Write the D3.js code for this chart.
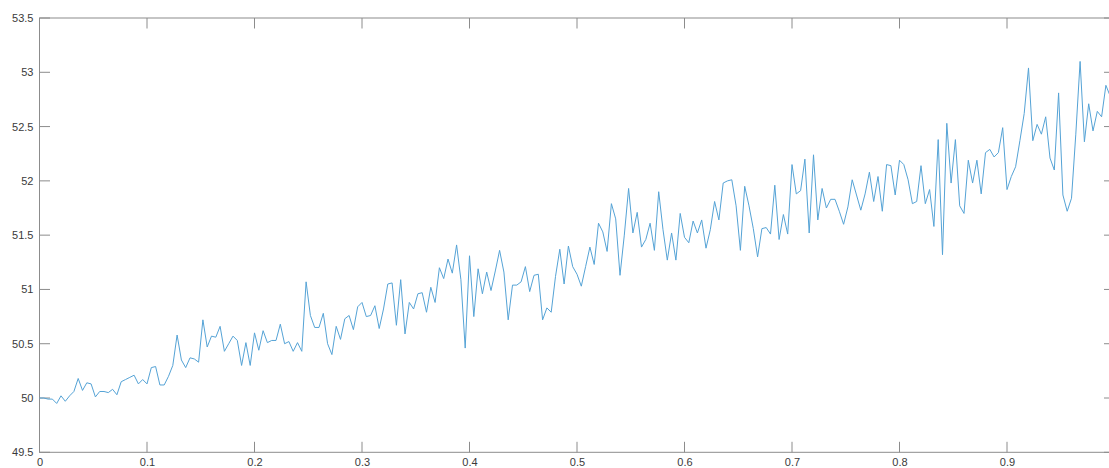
<!DOCTYPE html>
<html>
<head>
<meta charset="utf-8">
<script src="https://cdn.jsdelivr.net/npm/d3@7"></script>
<style>
  body { margin: 0; background: #fff; overflow: hidden; }
  svg { display: block; font-family: "Liberation Sans", Arial, Helvetica, sans-serif; }
</style>
</head>
<body>
<svg id="chart" width="1109" height="468"></svg>
<script>
// values, one per sample, x = i / 250
let yValues = [
  50.00, 50.00, 49.99, 49.99, 49.95, 50.02, 49.97, 50.02, 50.06, 50.18,
  50.07, 50.14, 50.13, 50.01, 50.06, 50.06, 50.05, 50.08, 50.03, 50.15,
  50.17, 50.19, 50.21, 50.13, 50.17, 50.13, 50.28, 50.29, 50.12, 50.12,
  50.20, 50.30, 50.58, 50.35, 50.28, 50.37, 50.36, 50.33, 50.72, 50.47,
  50.57, 50.56, 50.66, 50.43, 50.50, 50.57, 50.53, 50.30, 50.51, 50.30,
  50.60, 50.44, 50.62, 50.51, 50.53, 50.53, 50.68, 50.50, 50.52, 50.43,
  50.51, 50.43, 51.07, 50.76, 50.65, 50.65, 50.78, 50.50, 50.40, 50.66,
  50.54, 50.73, 50.76, 50.63, 50.84, 50.88, 50.75, 50.76, 50.85, 50.64,
  50.82, 51.05, 51.06, 50.67, 51.09, 50.59, 50.88, 50.82, 50.96, 50.97,
  50.79, 51.02, 50.88, 51.20, 51.10, 51.28, 51.15, 51.41, 51.09, 50.46,
  51.31, 50.75, 51.19, 50.96, 51.16, 50.99, 51.17, 51.36, 51.16, 50.72,
  51.04, 51.04, 51.07, 51.21, 50.98, 51.13, 51.14, 50.72, 50.83, 50.79,
  51.12, 51.37, 51.05, 51.40, 51.21, 51.14, 51.03, 51.21, 51.39, 51.23,
  51.61, 51.53, 51.35, 51.79, 51.65, 51.13, 51.50, 51.93, 51.52, 51.71,
  51.39, 51.46, 51.61, 51.36, 51.90, 51.55, 51.27, 51.52, 51.27, 51.70,
  51.48, 51.43, 51.63, 51.52, 51.64, 51.38, 51.55, 51.81, 51.64, 51.98,
  52.00, 52.01, 51.77, 51.36, 51.95, 51.77, 51.56, 51.30, 51.56, 51.57,
  51.51, 51.96, 51.46, 51.69, 51.51, 52.15, 51.88, 51.91, 52.20, 51.52,
  52.24, 51.64, 51.93, 51.75, 51.83, 51.83, 51.72, 51.60, 51.76, 52.01,
  51.87, 51.73, 51.88, 52.08, 51.81, 52.04, 51.72, 52.15, 52.14, 51.87,
  52.19, 52.15, 52.01, 51.79, 51.81, 52.14, 51.79, 51.92, 51.58, 52.38,
  51.32, 52.53, 51.98, 52.38, 51.77, 51.70, 52.19, 51.98, 52.19, 51.88,
  52.26, 52.29, 52.22, 52.26, 52.49, 51.92, 52.04, 52.13, 52.37, 52.62,
  53.04, 52.37, 52.52, 52.43, 52.59, 52.21, 52.10, 52.81, 51.87, 51.72,
  51.84, 52.43, 53.10, 52.36, 52.71, 52.46, 52.64, 52.59, 52.88, 52.78,
  52.60
];
let xTicks = [0, 0.1, 0.2, 0.3, 0.4, 0.5, 0.6, 0.7, 0.8, 0.9, 1];
let xLabels = [0, 0.1, 0.2, 0.3, 0.4, 0.5, 0.6, 0.7, 0.8, 0.9]; // "1" falls outside the crop
let yTicks = [49.5, 50, 50.5, 51, 51.5, 52, 52.5, 53, 53.5];

let data = yValues.map((v, i) => ({ x: i / 250, y: v }));

let plotL = 39.5, plotR = 1114.5, plotT = 18, plotB = 452.3;
let tickLen = 10.5;

let svg = d3.select('#chart');

let x = d3.scaleLinear().domain([0, 1]).range([plotL, plotR]);
let y = d3.scaleLinear().domain([49.5, 53.5]).range([plotB, plotT]);

let axisColor = '#8c8c8c';

// box
svg.append('rect')
    .attr('x', plotL).attr('y', plotT)
    .attr('width', plotR - plotL).attr('height', plotB - plotT)
    .attr('fill', 'none')
    .attr('stroke', axisColor)
    .attr('stroke-width', 1);

// bottom / left axes only for the labels, ticks are drawn below
let xAxis = d3.axisBottom(x).tickValues(xLabels).tickSize(0).tickPadding(6).tickFormat(d3.format('~g'));
let yAxis = d3.axisLeft(y).tickValues(yTicks).tickSize(0).tickPadding(6).tickFormat(d3.format('~g'));

let gx = svg.append('g').attr('transform', `translate(0,${plotB})`).call(xAxis);
let gy = svg.append('g').attr('transform', `translate(${plotL},0)`).call(yAxis);

[gx, gy].forEach(g => {
    g.select('.domain').remove();
    g.selectAll('text')
        .attr('fill', '#3a3a3a')
        .style('font-size', '11px');
});

// inner ticks on all four sides
let ticks = svg.append('g').attr('stroke', axisColor).attr('stroke-width', 1);
xTicks.forEach(t => {
    ticks.append('line').attr('x1', x(t)).attr('x2', x(t)).attr('y1', plotB).attr('y2', plotB - tickLen);
    ticks.append('line').attr('x1', x(t)).attr('x2', x(t)).attr('y1', plotT).attr('y2', plotT + tickLen);
});
yTicks.forEach(t => {
    ticks.append('line').attr('x1', plotL).attr('x2', plotL + tickLen).attr('y1', y(t)).attr('y2', y(t));
    ticks.append('line').attr('x1', plotR).attr('x2', plotR - tickLen).attr('y1', y(t)).attr('y2', y(t));
});

let line = d3.line()
    .x(d => x(d.x))
    .y(d => y(d.y));

svg.append('path')
    .datum(data)
    .attr('d', line)
    .attr('fill', 'none')
    .attr('stroke', '#55a3d6')
    .attr('stroke-width', 1)
    .attr('stroke-linejoin', 'round');
</script>
</body>
</html>
